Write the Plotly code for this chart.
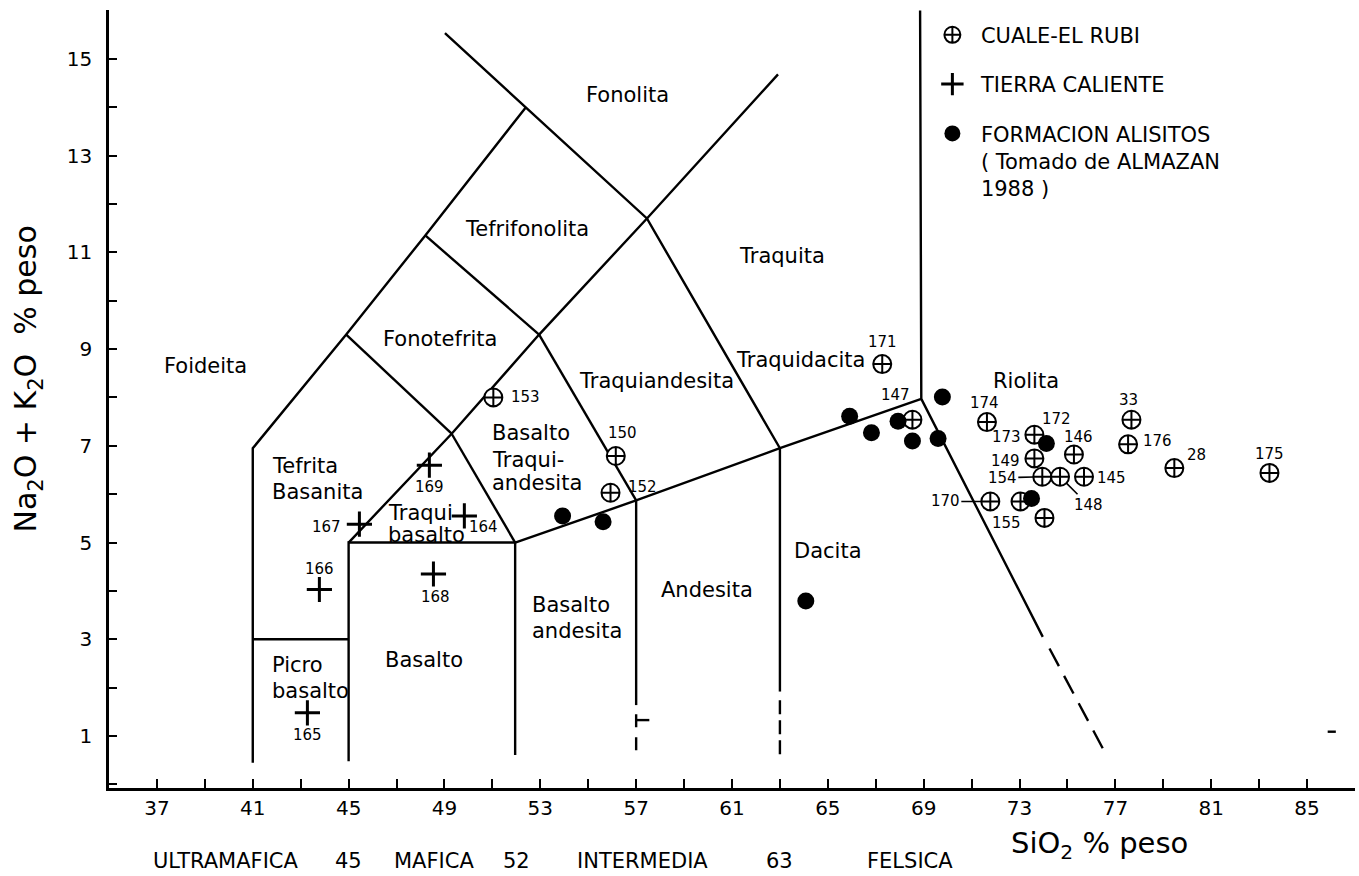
import plotly.graph_objects as go

# ---------------- data ----------------
# CUALE-EL RUBI samples (SiO2 %, Na2O+K2O %)
cuale_ids = ["171", "147", "153", "150", "152", "174", "173", "146", "33", "176",
             "149", "154", "148", "145", "28", "175", "170", "155", ""]
cuale_sio2 = [67.27, 68.53, 51.04, 56.15, 55.93, 71.64, 73.62, 75.27, 77.67, 77.53,
              73.62, 73.95, 74.69, 75.69, 79.46, 83.43, 71.78, 73.04, 74.04]
cuale_alk = [8.69, 7.54, 8.00, 6.79, 6.03, 7.49, 7.23, 6.82, 7.54, 7.03,
             6.74, 6.36, 6.36, 6.36, 6.54, 6.44, 5.85, 5.85, 5.51]

# TIERRA CALIENTE samples
tierra_ids = ["169", "167", "164", "166", "168", "165"]
tierra_sio2 = [48.37, 45.45, 49.83, 43.78, 48.54, 43.28]
tierra_alk = [6.60, 5.38, 5.55, 4.03, 4.35, 1.48]

# FORMACION ALISITOS samples
alisitos_sio2 = [65.91, 66.82, 67.93, 68.53, 69.60, 69.78, 74.12, 73.50, 53.93, 55.62, 64.08]
alisitos_alk = [7.61, 7.27, 7.51, 7.10, 7.15, 8.01, 7.05, 5.91, 5.55, 5.43, 3.79]

# TAS field boundaries (SiO2, Na2O+K2O), solid polylines
tas_solid = [
    [(41.0, 0.45), (41.0, 6.95), (44.9, 9.3), (48.2, 11.35), (52.4, 14.0)],
    [(49.02, 15.53), (52.4, 14.0), (57.45, 11.7), (63.0, 6.95)],
    [(45.0, 5.0), (49.3, 7.25), (52.95, 9.3), (57.45, 11.7), (62.92, 14.68)],
    [(44.9, 9.3), (49.3, 7.25)],
    [(48.2, 11.35), (52.95, 9.3)],
    [(49.3, 7.25), (51.95, 5.0)],
    [(52.95, 9.3), (57.0, 5.87)],
    [(41.0, 3.0), (45.0, 3.0)],
    [(45.0, 0.48), (45.0, 5.0), (51.95, 5.0), (51.95, 0.61)],
    [(51.95, 5.0), (57.0, 5.87), (63.0, 6.95), (68.9, 7.97)],
    [(57.0, 5.87), (57.0, 1.64)],
    [(63.0, 6.95), (63.0, 1.92)],
    [(68.85, 16.0), (68.9, 7.97), (73.97, 3.05)],
    [(57.0, 1.33), (57.55, 1.33)],
    [(85.86, 1.09), (86.2, 1.09)],
]
# dashed continuations (polyline, dash pattern)
tas_dashed = [
    ([(57.0, 1.45), (57.0, 0.65)], "13px,10px"),
    ([(63.0, 1.74), (63.0, 0.57)], "14px,6px"),
    ([(74.25, 2.81), (76.62, 0.61)], "20px,11px"),
]

# field names: (text, SiO2, Na2O+K2O, anchor)
field_names = [
    ("Fonolita", 56.64, 14.26, "center"),
    ("Tefrifonolita", 52.45, 11.49, "center"),
    ("Traquita", 63.1, 10.92, "center"),
    ("Fonotefrita", 48.81, 9.20, "center"),
    ("Traquiandesita", 57.85, 8.34, "center"),
    ("Traquidacita", 63.86, 8.77, "center"),
    ("Foideita", 39.02, 8.64, "center"),
    ("Riolita", 73.26, 8.33, "center"),
    ("Tefrita", 41.72, 6.58, "left"),
    ("Basanita", 41.72, 6.04, "left"),
    ("Basalto", 50.90, 7.26, "left"),
    ("Traqui-", 50.90, 6.70, "left"),
    ("andesita", 50.90, 6.23, "left"),
    ("Traqui", 46.58, 5.62, "left"),
    ("basalto", 46.58, 5.15, "left"),
    ("Picro", 41.70, 2.47, "left"),
    ("basalto", 41.70, 1.94, "left"),
    ("Basalto", 48.16, 2.57, "center"),
    ("Basalto", 52.57, 3.71, "left"),
    ("andesita", 52.57, 3.17, "left"),
    ("Andesita", 59.95, 4.02, "center"),
    ("Dacita", 64.99, 4.82, "center"),
]

# ---------------- styling / label placement ----------------
FONT = "DejaVu Sans"
label_offsets = {  # id: (dx px, dy px downwards, leader line)
    "171": (0, -22, False), "147": (-17, -25, False), "153": (32, 0, False),
    "150": (7, -23, False), "152": (32, -6, False), "174": (-2, -19, False),
    "173": (-28, 2, False), "146": (5, -18, False), "33": (-3, -20, False),
    "176": (29, -3, False), "149": (-29, 3, False), "154": (-40, 1, True),
    "148": (28, 28, True), "145": (27, 1, False), "28": (22, -13, False),
    "175": (0, -19, False), "170": (-45, 0, True), "155": (-14, 22, False),
    "169": (0, 22, False), "167": (-33, 3, False), "164": (19, 11, False),
    "166": (0, -20, False), "168": (2, 23, False), "165": (0, 22, False),
}

fig = go.Figure()

for seg in tas_solid:
    fig.add_trace(go.Scatter(x=[p[0] for p in seg], y=[p[1] for p in seg], mode="lines",
                             line=dict(color="black", width=2.4), showlegend=False,
                             hoverinfo="skip"))
for seg, dash in tas_dashed:
    fig.add_trace(go.Scatter(x=[p[0] for p in seg], y=[p[1] for p in seg], mode="lines",
                             line=dict(color="black", width=2.4, dash=dash), showlegend=False,
                             hoverinfo="skip"))

fig.add_trace(go.Scatter(x=cuale_sio2, y=cuale_alk, mode="markers", name="CUALE-EL RUBI",
                         legendgroup="a", text=cuale_ids,
                         marker=dict(symbol="circle-cross", size=18, color="white",
                                     line=dict(color="black", width=2))))
fig.add_trace(go.Scatter(x=tierra_sio2, y=tierra_alk, mode="markers", name="TIERRA CALIENTE",
                         legendgroup="b", text=tierra_ids,
                         marker=dict(symbol="cross-thin-open", size=18, color="black",
                                     line=dict(color="black", width=3))))
fig.add_trace(go.Scatter(x=alisitos_sio2, y=alisitos_alk, mode="markers",
                         name="FORMACION ALISITOS<br>( Tomado de ALMAZAN<br>1988 )",
                         legendgroup="c",
                         marker=dict(symbol="circle", size=17, color="black")))

annotations = []
for txt, x, y, anchor in field_names:
    annotations.append(dict(x=x, y=y, text=txt, showarrow=False, xanchor=anchor,
                            yanchor="middle", font=dict(family=FONT, size=21, color="black")))

def add_labels(ids, xs, ys):
    for pid, x, y in zip(ids, xs, ys):
        if pid not in label_offsets:
            continue
        dx, dy, leader = label_offsets[pid]
        if leader:
            annotations.append(dict(x=x, y=y, text=pid, showarrow=True, arrowhead=0,
                                    arrowwidth=1.6, arrowcolor="black", ax=dx, ay=dy,
                                    standoff=9, font=dict(family=FONT, size=15, color="black")))
        else:
            annotations.append(dict(x=x, y=y, text=pid, showarrow=False, xshift=dx, yshift=-dy,
                                    font=dict(family=FONT, size=15, color="black")))

add_labels(cuale_ids, cuale_sio2, cuale_alk)
add_labels(tierra_ids, tierra_sio2, tierra_alk)
# label 172 sits next to sample 173
i173 = cuale_ids.index("173")
annotations.append(dict(x=cuale_sio2[i173], y=cuale_alk[i173], text="172", showarrow=False,
                        xshift=22, yshift=16, font=dict(family=FONT, size=15, color="black")))

# axis titles and class row
annotations.append(dict(xref="paper", yref="paper", x=-0.065, y=0.525, textangle=-90,
                        text="Na<sub>2</sub>O + K<sub>2</sub>O\u00a0\u00a0% peso", showarrow=False,
                        xanchor="center", yanchor="middle",
                        font=dict(family=FONT, size=30, color="black")))
annotations.append(dict(xref="paper", yref="paper", x=0.795, y=-0.0733,
                        text="SiO<sub>2</sub> % peso", showarrow=False,
                        xanchor="center", yanchor="middle",
                        font=dict(family=FONT, size=29, color="black")))
class_row = [("ULTRAMAFICA", 39.87), ("45", 45.0), ("MAFICA", 48.56), ("52", 52.0),
             ("INTERMEDIA", 57.26), ("63", 63.0), ("FELSICA", 68.43)]
for txt, x in class_row:
    annotations.append(dict(x=x, xref="x", yref="paper", y=-0.0935, text=txt, showarrow=False,
                            xanchor="center", yanchor="middle",
                            font=dict(family=FONT, size=21, color="black")))

tickfont = dict(family=FONT, size=20, color="black")
fig.update_layout(
    width=1359, height=876,
    margin=dict(l=109, r=4, t=10, b=88),
    paper_bgcolor="white", plot_bgcolor="white",
    showlegend=True,
    legend=dict(x=0.654, y=0.994, xanchor="left", yanchor="top",
                font=dict(family=FONT, size=21, color="black"),
                bgcolor="rgba(0,0,0,0)", tracegroupgap=19, valign="top", itemwidth=47),
    xaxis=dict(range=[35, 87], showgrid=False, zeroline=False, showline=True,
               linecolor="black", linewidth=2.5, ticks="inside", tickmode="linear",
               tick0=37, dtick=4, ticklen=9, tickwidth=1.8, tickcolor="black",
               tickfont=tickfont, ticklabelstandoff=0,
               minor=dict(ticks="inside", tick0=35, dtick=2, ticklen=9, tickwidth=1.8,
                          tickcolor="black", showgrid=False)),
    yaxis=dict(range=[-0.074, 16.01], showgrid=False, zeroline=False, showline=True,
               linecolor="black", linewidth=2.5, ticks="inside", tickmode="linear",
               tick0=1, dtick=2, ticklen=8, tickwidth=1.8, tickcolor="black",
               tickfont=tickfont, ticklabelstandoff=10,
               minor=dict(ticks="inside", tick0=0, dtick=1, ticklen=8, tickwidth=1.8,
                          tickcolor="black", showgrid=False)),
    annotations=annotations,
)

fig.write_html("out.html", config={"displayModeBar": False},
               post_script="document.body.style.margin='0';document.body.style.overflow='hidden';")
